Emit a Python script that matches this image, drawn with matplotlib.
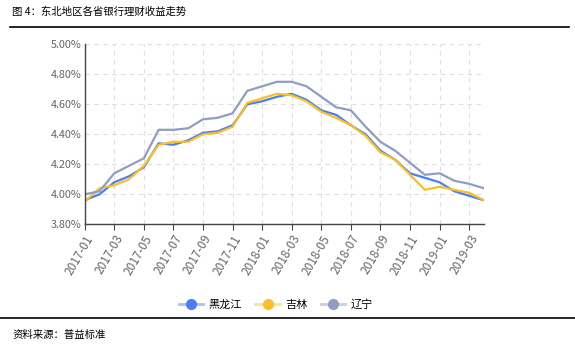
import matplotlib.pyplot as plt
from matplotlib.lines import Line2D

plt.rcParams['font.family'] = ['Noto Sans CJK SC', 'DejaVu Sans']

# months 2017-01 .. 2019-04
months = [f"{y}-{m:02d}" for y in (2017, 2018, 2019) for m in range(1, 13)][:28]

heilongjiang = [3.96, 4.00, 4.08, 4.12, 4.18, 4.34, 4.33, 4.36, 4.41, 4.42, 4.46, 4.60, 4.62, 4.65,
                4.67, 4.63, 4.56, 4.53, 4.46, 4.40, 4.29, 4.23, 4.14, 4.11, 4.08, 4.02, 3.99, 3.96]
jilin = [3.95, 4.04, 4.06, 4.10, 4.19, 4.33, 4.35, 4.35, 4.40, 4.41, 4.45, 4.61, 4.64, 4.67,
         4.66, 4.62, 4.55, 4.51, 4.46, 4.39, 4.28, 4.23, 4.13, 4.03, 4.05, 4.03, 4.01, 3.96]
liaoning = [4.00, 4.02, 4.14, 4.19, 4.24, 4.43, 4.43, 4.44, 4.50, 4.51, 4.54, 4.69, 4.72, 4.75,
            4.75, 4.72, 4.65, 4.58, 4.56, 4.45, 4.35, 4.29, 4.21, 4.13, 4.14, 4.09, 4.07, 4.04]

names = ["黑龙江", "吉林", "辽宁"]
colors = ["#4b7ef3", "#fbbf26", "#8f9dc3"]
light = ["#a9c0f7", "#fde09a", "#c8cee0"]

fig = plt.figure(figsize=(5.75, 3.53), dpi=100)
ax = fig.add_axes([0.1473, 0.3646, 0.6944, 0.5099])

x = list(range(len(months)))
for vals, c in zip([heilongjiang, jilin, liaoning], colors):
    ax.plot(x, vals, color=c, lw=1.6)

ax.set_xlim(0, len(months) - 1)
ax.set_ylim(3.80, 5.00)
ax.set_yticks([3.8, 4.0, 4.2, 4.4, 4.6, 4.8, 5.0])
ax.set_yticklabels([f"{v:.2f}%" for v in [3.8, 4.0, 4.2, 4.4, 4.6, 4.8, 5.0]])
ax.set_xticks(x[::2])
ax.set_xticklabels(months[::2], rotation=60, ha='right', rotation_mode='anchor')
ax.tick_params(axis='x', colors='#444444', labelcolor='#666666', labelsize=8.5, length=4, pad=2)
ax.tick_params(axis='y', length=0, labelcolor='#666666', labelsize=7.8, pad=2)
ax.grid(True, color='#dddddd', ls=(0, (4, 4)), lw=0.8)
for s in ['top', 'right']:
    ax.spines[s].set_visible(False)
for s in ['left', 'bottom']:
    ax.spines[s].set_color('#444444')
    ax.spines[s].set_linewidth(1.0)

handles = [Line2D([], [], color=l, lw=2, marker='o', markersize=7,
                  markerfacecolor=c, markeredgecolor=c) for c, l in zip(colors, light)]
fig.legend(handles, names, loc='center', bbox_to_anchor=(0.48, 0.136), ncol=3,
           frameon=False, fontsize=8, handlelength=2.2, columnspacing=1.2, handletextpad=0.5)

fig.text(0.021, 0.966, "图 4：东北地区各省银行理财收益走势", fontsize=7.5, va='center', ha='left')
fig.add_artist(Line2D([0.017, 0.99], [0.924, 0.924], color='black', lw=1.2))
fig.add_artist(Line2D([0.0, 1.0], [0.099, 0.099], color='black', lw=1.2))
fig.text(0.021, 0.05, "资料来源：普益标准", fontsize=7.5, va='center', ha='left')

fig.savefig("out.png", dpi=100)
